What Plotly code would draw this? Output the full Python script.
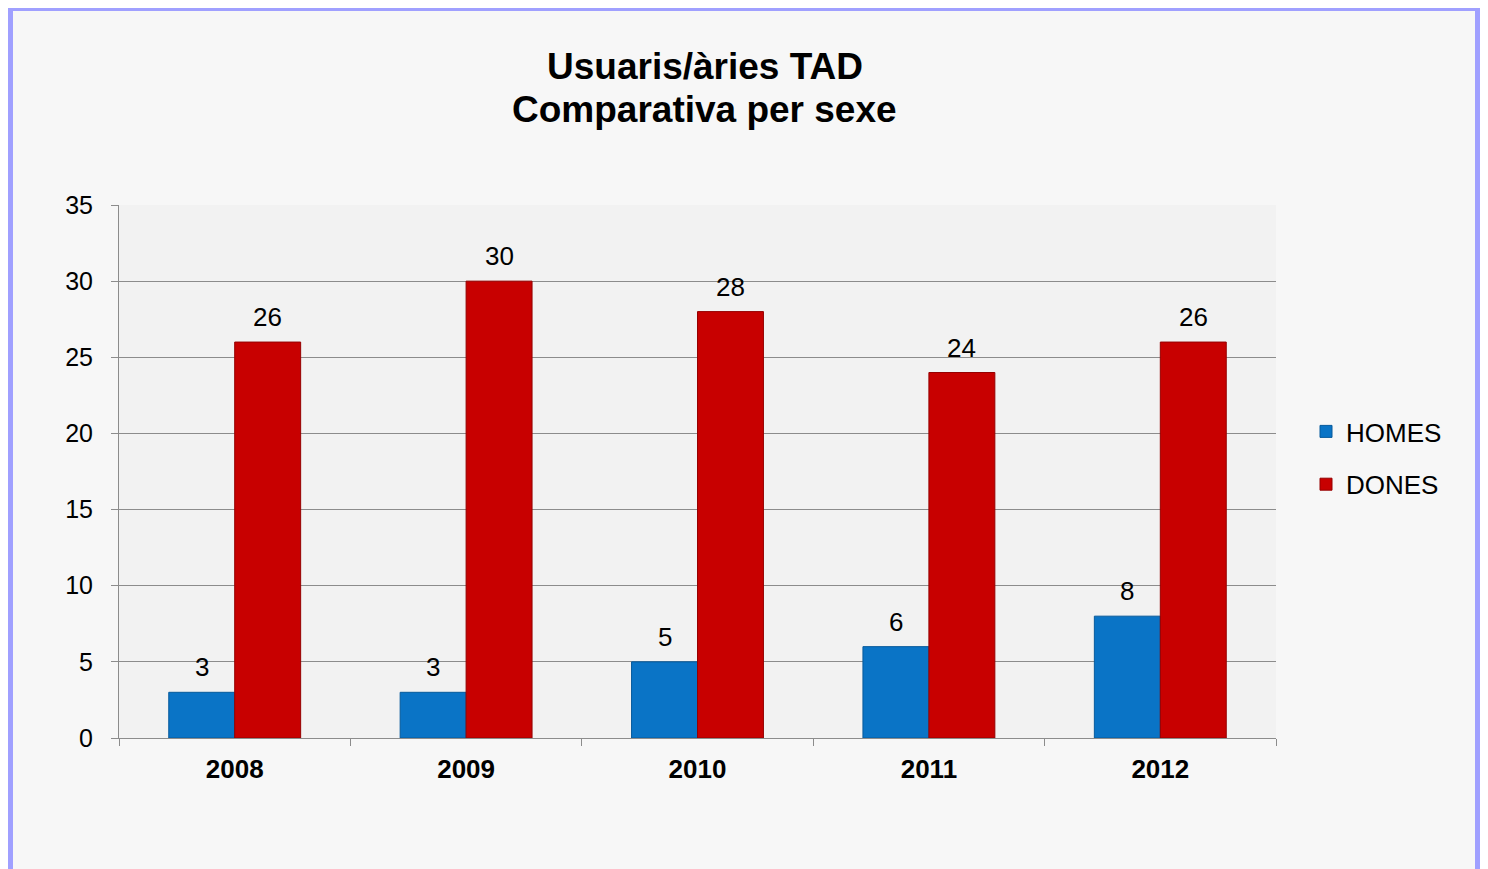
import plotly.graph_objects as go

years = ["2008", "2009", "2010", "2011", "2012"]
homes = [3, 3, 5, 6, 8]
dones = [26, 30, 28, 24, 26]
title_lines = ["Usuaris/àries TAD", "Comparativa per sexe"]

FONT = "Liberation Sans, Arial, sans-serif"
O = 8  # page offset of the plot div
W, H = 1472, 861
L, T = 119 - O, 205 - O
R = W - (1276 - O)
B = H - (738 - O)
BARGAP = 0.43

pw = W - L - R
ph = H - T - B


def px_x(x):
    return (x - O - L) / pw


def px_y(y):
    return (H - B - (y - O)) / ph


BLUE = "#0a74c6"
RED = "#c80000"

fig = go.Figure()
fig.add_trace(go.Bar(
    x=years, y=homes, name="HOMES", legendgroup="h",
    marker=dict(color=BLUE, line=dict(color="#075a9c", width=1)),
))
fig.add_trace(go.Bar(
    x=years, y=dones, name="DONES", legendgroup="d",
    marker=dict(color=RED, line=dict(color="#960000", width=1)),
))

# data labels (x given as category index)
bar_w = pw / len(years) * (1 - BARGAP) / 2
for series, sign in ((homes, -1), (dones, 1)):
    for i, v in enumerate(series):
        fig.add_annotation(x=i, y=v, text=str(v), showarrow=False,
                           xshift=sign * bar_w / 2, yshift=8, yanchor="bottom",
                           font=dict(family=FONT, size=26, color="black"))

# title lines
for line, yc in zip(title_lines, (66, 109)):
    fig.add_annotation(xref="paper", yref="paper", x=px_x(704.5), y=px_y(yc),
                       xanchor="center", yanchor="middle", showarrow=False,
                       text="<b>%s</b>" % line,
                       font=dict(family=FONT, size=37, color="black"))

fig.add_shape(type="rect", xref="paper", yref="paper",
              x0=px_x(10.5), x1=px_x(1477.5), y0=px_y(905), y1=px_y(8.5),
              line=dict(color="#a0a0ff", width=5), fillcolor="rgba(0,0,0,0)",
              layer="below")

fig.update_layout(
    width=W, height=H,
    margin=dict(l=L, r=R, t=T, b=B, pad=0),
    paper_bgcolor="#f7f7f7",
    plot_bgcolor="#f2f2f2",
    barmode="group", bargap=BARGAP, bargroupgap=0,
    font=dict(family=FONT, size=26, color="black"),
    legend=dict(x=px_x(1306), xanchor="left", y=px_y(458), yanchor="middle",
                font=dict(family=FONT, size=26, color="black"),
                tracegroupgap=16, itemwidth=30, bgcolor="rgba(0,0,0,0)"),
    showlegend=True,
)
fig.update_xaxes(
    type="category", categoryorder="array", categoryarray=years,
    range=[-0.5, len(years) - 0.5],
    tickson="boundaries", ticks="outside", ticklen=7,
    tickcolor="#8c8c8c", showline=True, linecolor="#8c8c8c", linewidth=1,
    showgrid=False, ticklabelstandoff=8,
    tickfont=dict(family=FONT, size=26, color="black", weight="bold"),
)
fig.update_yaxes(
    range=[0, 35], dtick=5, ticks="outside", ticklen=7, tickcolor="#8c8c8c",
    showline=True, linecolor="#8c8c8c", linewidth=1,
    showgrid=True, gridcolor="#8c8c8c", gridwidth=1, zeroline=False,
    ticklabelstandoff=13,
    tickfont=dict(family=FONT, size=25, color="black"),
)

fig.write_html("out.html")
